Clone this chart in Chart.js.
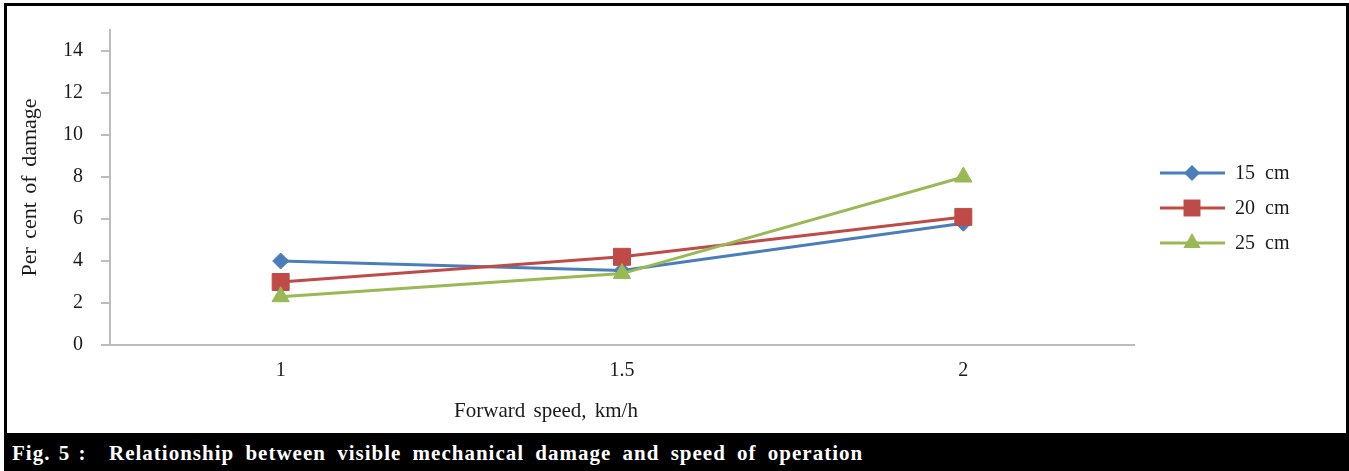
<!DOCTYPE html>
<html>
<head>
<meta charset="utf-8">
<script src="https://cdn.jsdelivr.net/npm/chart.js@4.4.0/dist/chart.umd.min.js"></script>
<style>
  body { margin: 0; background: #fff; width: 1349px; height: 471px; overflow: hidden; position: relative; }
  #frame { position: absolute; left: 4px; top: 3px; width: 1345px; height: 468px; border: 3px solid #000; box-sizing: border-box; }
  #box { position: absolute; left: 7px; top: 6px; width: 1338px; height: 427px; }
  #caption { position: absolute; left: 4px; top: 433px; width: 1345px; height: 38px; background: #000; color: #fff;
    font: bold 21px "Liberation Serif", serif; letter-spacing: 1px; line-height: 40px; white-space: pre; }
  #caption .fig { position: absolute; left: 8px; word-spacing: 2px; }
  #caption .txt { position: absolute; left: 105px; word-spacing: 5px; }
</style>
</head>
<body>
<div id="frame"></div>
<div id="box"><canvas id="damageChart"></canvas></div>
<div id="caption"><span class="fig">Fig. 5 :</span><span class="txt">Relationship between visible mechanical damage and speed of operation</span></div>
<script>
// forward speed categories (km/h)
const speeds = ['1', '1.5', '2'];
// per cent of damage for each depth
const damage15 = [4.0, 3.55, 5.8];
const damage20 = [3.0, 4.2, 6.1];
const damage25 = [2.3, 3.4, 8.0];
const seriesNames = ['15 cm', '20 cm', '25 cm'];
const yMin = 0, yMax = 15, yStep = 2;

const serif = '"Liberation Serif", "Times New Roman", serif';
const textColor = '#1a1a1a';
const axisColor = '#bcbcbc';

// marker drawing used for the side legend
function drawMarker(ctx, style, r, x, y) {
    ctx.beginPath();
    if (style === 'rectRot') {
        ctx.moveTo(x, y - r); ctx.lineTo(x + r, y); ctx.lineTo(x, y + r); ctx.lineTo(x - r, y);
    } else if (style === 'rect') {
        const s = r * Math.SQRT1_2;
        ctx.rect(x - s, y - s, 2 * s, 2 * s);
    } else {
        ctx.moveTo(x, y - r);
        ctx.lineTo(x + r * Math.sin(Math.PI / 3), y + r * Math.cos(Math.PI / 3));
        ctx.lineTo(x - r * Math.sin(Math.PI / 3), y + r * Math.cos(Math.PI / 3));
    }
    ctx.closePath();
    ctx.fill();
}

const sideLegend = {
    id: 'sideLegend',
    afterDraw(chart) {
        const ctx = chart.ctx;
        chart.data.datasets.forEach((ds, i) => {
            const y = 167 + i * 35;
            ctx.save();
            ctx.strokeStyle = ds.borderColor;
            ctx.lineWidth = 3;
            ctx.beginPath();
            ctx.moveTo(1153, y);
            ctx.lineTo(1218, y);
            ctx.stroke();
            ctx.fillStyle = ds.pointBackgroundColor;
            drawMarker(ctx, ds.pointStyle, ds.pointRadius, 1185, y);
            ctx.fillStyle = textColor;
            ctx.font = '20px ' + serif;
            ctx.wordSpacing = '5px';
            ctx.textAlign = 'left';
            ctx.textBaseline = 'middle';
            ctx.fillText(ds.label, 1228, y + 1);
            ctx.restore();
        });
    }
};

// x axis title sits left of centre in the original
const xTitle = {
    id: 'xTitle',
    afterDraw(chart) {
        const ctx = chart.ctx;
        ctx.save();
        ctx.fillStyle = textColor;
        ctx.font = '21px ' + serif;
        ctx.wordSpacing = '3px';
        ctx.textAlign = 'center';
        ctx.textBaseline = 'middle';
        ctx.fillText('Forward speed, km/h', chart.chartArea.left + 436, 405);
        ctx.restore();
    }
};

const wordGap = {
    id: 'wordGap',
    beforeDraw(chart) { chart.ctx.wordSpacing = '3px'; }
};

new Chart(document.getElementById('damageChart'), {
    type: 'line',
    data: {
        labels: speeds,
        datasets: [
            {
                label: seriesNames[0], data: damage15, order: 3,
                borderColor: '#4a7ebb', pointBackgroundColor: '#4a7ebb', pointBorderColor: '#4a7ebb',
                borderWidth: 3, pointStyle: 'rectRot', pointRadius: 8, pointBorderWidth: 1, tension: 0
            },
            {
                label: seriesNames[1], data: damage20, order: 2,
                borderColor: '#be4b48', pointBackgroundColor: '#be4b48', pointBorderColor: '#be4b48',
                borderWidth: 3, pointStyle: 'rect', pointRadius: 12, pointBorderWidth: 1, tension: 0
            },
            {
                label: seriesNames[2], data: damage25, order: 1,
                borderColor: '#98b954', pointBackgroundColor: '#98b954', pointBorderColor: '#98b954',
                borderWidth: 3, pointStyle: 'triangle', pointRadius: 10, pointBorderWidth: 1, tension: 0
            }
        ]
    },
    options: {
        responsive: true,
        maintainAspectRatio: false,
        animation: false,
        layout: { padding: { top: 24, right: 211, bottom: 0, left: 0 } },
        plugins: {
            legend: { display: false },
            tooltip: { enabled: false }
        },
        scales: {
            x: {
                offset: true,
                grid: { display: false, drawTicks: false },
                border: { color: axisColor, width: 2 },
                ticks: { color: textColor, font: { family: serif, size: 20 }, padding: 14 },
                afterFit(scale) { scale.height = 88; }
            },
            y: {
                min: yMin,
                max: yMax,
                ticks: { stepSize: yStep, includeBounds: false, color: textColor, font: { family: serif, size: 20 }, padding: 18 },
                grid: { drawOnChartArea: false, drawTicks: true, tickLength: 9, color: axisColor, lineWidth: 2 },
                border: { color: axisColor, width: 2 },
                title: { display: true, text: 'Per cent of damage', color: textColor, font: { family: serif, size: 22 }, padding: { top: 10, bottom: 0 } },
                afterFit(scale) { scale.width = 103; scale.paddingTop = 0; scale.paddingBottom = 0; }
            }
        }
    },
    plugins: [wordGap, sideLegend, xTitle]
});
</script>
</body>
</html>
